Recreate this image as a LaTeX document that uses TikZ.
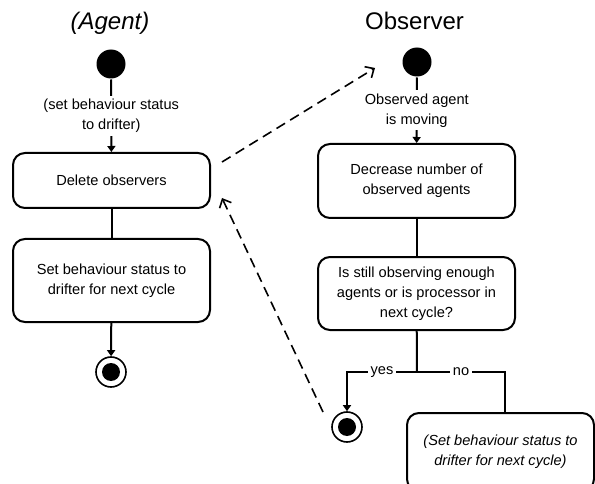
\documentclass[tikz,border=0pt]{standalone}
\usepackage{fontspec}
\setmainfont{Liberation Sans}
\usetikzlibrary{arrows.meta,positioning}

\begin{document}
\begin{tikzpicture}[
    x = 1pt, y = -1pt, % pixel grid, y pointing down
    > = {Triangle[length=6pt,width=8pt]}, % arrow head style
    line width = 2pt, % line style
    node distance = 29pt, % distance between boxes
    font = \fontsize{14.6}{20}\selectfont
    ]

    \tikzset{
    activity/.style = {draw, rounded corners = 12pt, align = center,
      minimum width = 197pt, inner sep = 2pt},
    initial/.style = {circle, fill = black, minimum size = 29pt, inner sep = 0pt},
    final/.style = {circle, draw, line width = 1.6pt, minimum size = 30pt, inner sep = 0pt,
      path picture = {\fill (path picture bounding box.center) circle (9pt);}},
    guard/.style = {fill = white, inner sep = 3pt, align = center},
    title/.style = {font = \fontsize{24}{28}\selectfont, anchor = base},
    message/.style = {dashed, line width = 1.6pt, dash pattern = on 10pt off 6pt,
      -{Straight Barb[length=7pt,width=13pt]}}
    }

    \path[use as bounding box, clip] (0,0) rectangle (595,484);

    % agent lane
    \node[title] (agentttl) at (110,30) {\itshape (Agent)};
    \node[initial] (astart) at (111,64) {};
    \node[activity, minimum height=55pt] (del) at (111.5,180.5) {Delete observers};
    \node[activity, minimum height=83pt] (setb) [below=of del] {Set behaviour status to\\drifter for next cycle};
    \node[final] (afinal) at (111,372) {};

    % observer lane
    \node[title] (obsttl) at (414.5,30) {Observer};
    \node[initial] (ostart) at (417,62) {};
    \node[activity, minimum height=74pt] (dec) at (416.5,181) {Decrease number of\\observed agents};
    \node[activity, minimum height=73pt] (chk) [below=37pt of dec] {Is still observing enough\\agents or is processor in\\next cycle?};
    \coordinate (fork) at (417,372);
    \node[final] (ofinal) at (347,427) {};
    \node[activity, minimum width=187pt, minimum height=78pt,
      font={\fontsize{14.6}{20}\selectfont\itshape}] (next) at (500.5,452) {(Set behaviour status to\\drifter for next cycle)};

    \draw[->] (astart) -- node[guard] (setlbl) {(set behaviour status\\to drifter)} (del);
    \draw (del) -- (setb);
    \draw[->] (setb) -- (afinal);

    \draw[->] (ostart) -- node[guard] (movelbl) {Observed agent\\is moving} (dec);
    \draw (dec) -- (chk);
    \draw (chk) -- (fork);
    \draw[->] (fork) -| node[guard, pos=0.25] (yeslbl) {yes} (ofinal);
    \draw (fork) -| node[guard, pos=0.25] (nolbl) {no} ([xshift=4.5pt]next.north);

    % messages between the lanes
    \coordinate (msgout) at (222,162);
    \coordinate (msgin) at (375,68);
    \coordinate (retout) at (323,412);
    \coordinate (retin) at (222,198);
    \draw[message] (msgout) -- (msgin);
    \draw[message] (retout) -- (retin);
\end{tikzpicture}
\end{document}
